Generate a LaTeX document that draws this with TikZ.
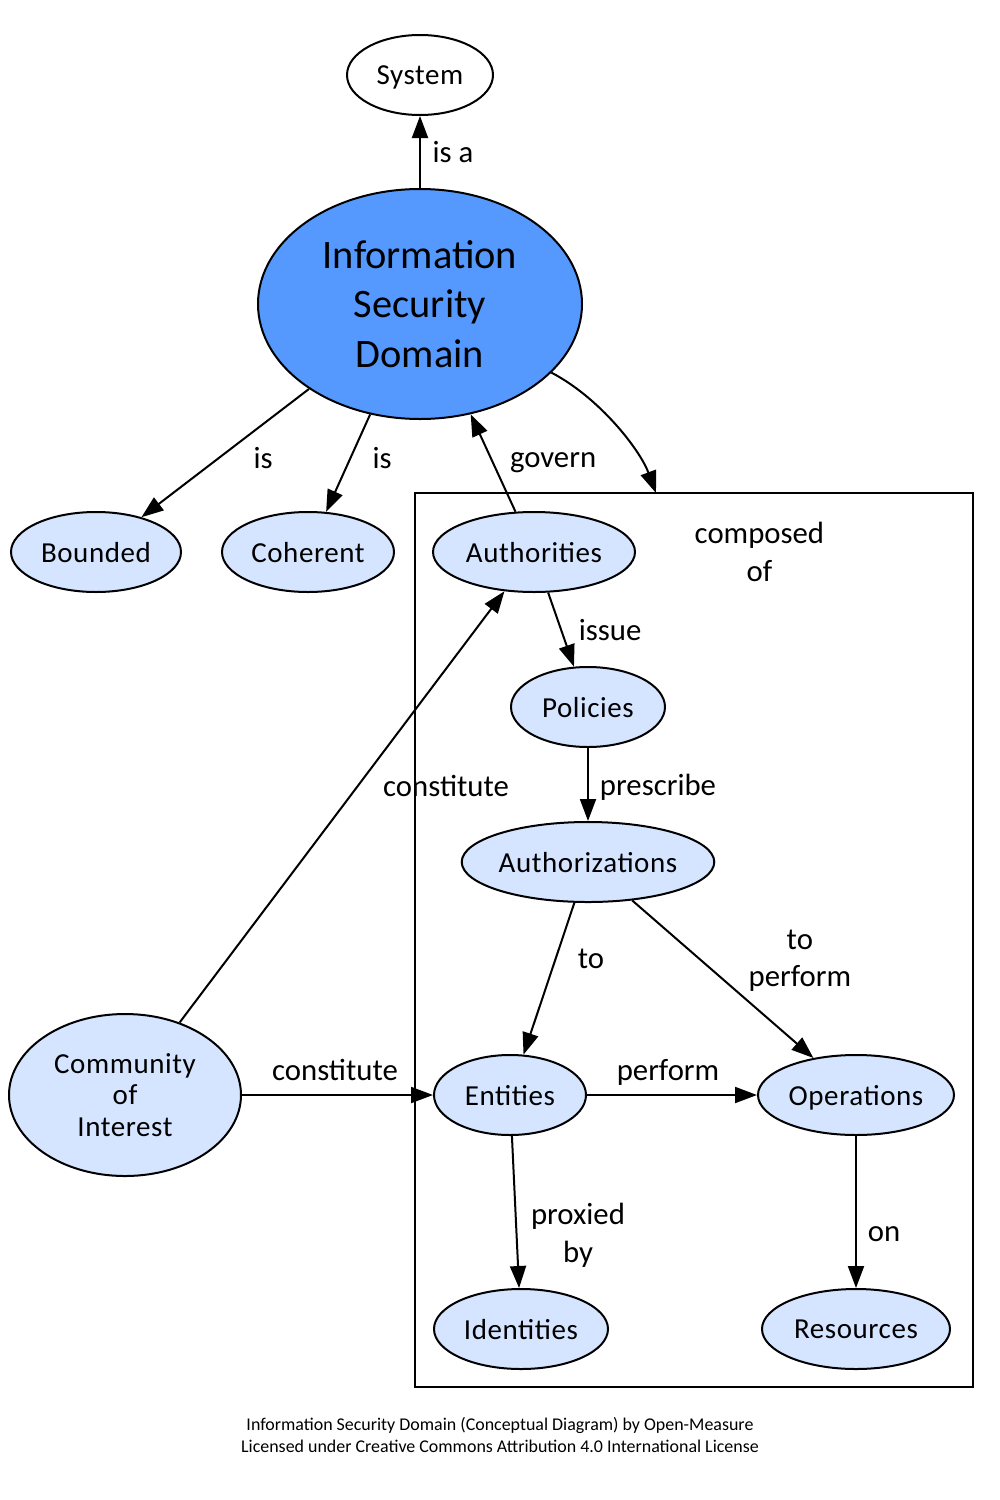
\documentclass[tikz,border=0pt]{standalone}
\usepackage{fontspec}
\setmainfont{Carlito}
\newfontfamily\spaced[LetterSpace=2]{Carlito}
\usetikzlibrary{shapes.geometric,arrows.meta,positioning}
\definecolor{isdblue}{RGB}{85,153,255}
\definecolor{nodeblue}{RGB}{213,229,255}
\begin{document}
\begin{tikzpicture}[x=0.2mm, y=-0.2mm, line width=0.4mm, >={Triangle[length=4.4mm,width=3.2mm]},
  main/.style = {draw, ellipse, fill=nodeblue, inner sep=0pt, minimum height=16mm, text depth=0pt, align=center, font=\spaced\fontsize{16.5}{18}\selectfont},
  lbl/.style = {inner sep=0pt, text depth=0pt, align=center, font=\fontsize{17.5}{21.5}\selectfont}]
\useasboundingbox (0,0) rectangle (1000,1500);
\node[main, fill=white, minimum width=29.2mm] (sys) at (420,75) {System};
\node[main, fill=isdblue, minimum width=64.8mm, minimum height=46mm, font=\fontsize{23}{28}\selectfont] (isd) at (420,304) {Information\\Security\\Domain};
\node[main, minimum width=34mm] (bnd) at (96,552) {Bounded};
\node[main, minimum width=34.4mm, node distance=42.4mm, right of=bnd] (coh) {Coherent};
\node[main, minimum width=40.4mm] (auth) at (534,552) {Authorities};
\node[main, minimum width=30.8mm] (pol) at (588,707) {Policies};
\node[main, minimum width=50mm, node distance=31mm, below of=pol] (azn) {Authorizations};
\node[main, minimum width=46.4mm, minimum height=32.4mm] (coi) at (125,1095) {Community\\of\\Interest};
\node[main, minimum width=30.4mm] (ent) at (510,1095) {Entities};
\node[main, minimum width=39.2mm] (ops) at (856,1095) {Operations};
\node[main, minimum width=34.8mm] (idn) at (521,1329) {Identities};
\node[main, minimum width=37.6mm, node distance=46.8mm, below of=ops] (res) {Resources};
\node[inner sep=0pt, align=center, font=\fontsize{10.2}{12.5}\selectfont] (cap) at (500,1435) {Information Security Domain (Conceptual Diagram) by Open-Measure\\Licensed under Creative Commons Attribution 4.0 International License};
% cluster
\draw (415,493) rectangle (973,1387);
\coordinate (cmp) at (656,493);
\path [->] (isd) edge node[lbl, xshift=6.6mm] {is a} (sys);
\path [->] (isd) edge node[lbl, xshift=7.6mm, yshift=-1mm] {is} (bnd);
\path [->] (isd) edge node[lbl, xshift=6.8mm, yshift=1mm] {is} (coh);
\path [->] (auth) edge node[lbl, xshift=12mm, yshift=0.6mm] {govern} (isd);
\draw [->] (isd) .. controls (600,398) and (640,450) .. (cmp) node[lbl, pos=0.5, xshift=28.7mm, yshift=-25.2mm] {composed\\of};
\path [->] (auth) edge node[lbl, xshift=9.8mm] {issue} (pol);
\path [->] (pol) edge node[lbl, xshift=14mm] {prescribe} (azn);
\path [->] (coi) edge node[lbl, xshift=20.8mm, yshift=4.3mm] {constitute} (auth);
\path [->] (azn) edge node[lbl, xshift=8.4mm, yshift=4mm] {to} (ent);
\path [->] (azn) edge node[lbl, xshift=15.4mm, yshift=4.2mm] {to\\perform} (ops);
\path [->] (coi) edge node[lbl, xshift=-0.5mm, yshift=5mm] {constitute} (ent);
\path [->] (ent) edge node[lbl, xshift=-0.8mm, yshift=5mm] {perform} (ops);
\path [->] (ent) edge node[lbl, xshift=12.5mm, yshift=-4.2mm] {proxied\\by} (idn);
\path [->] (ops) edge node[lbl, xshift=5.6mm, yshift=-4.4mm] {on} (res);
\end{tikzpicture}
\end{document}
